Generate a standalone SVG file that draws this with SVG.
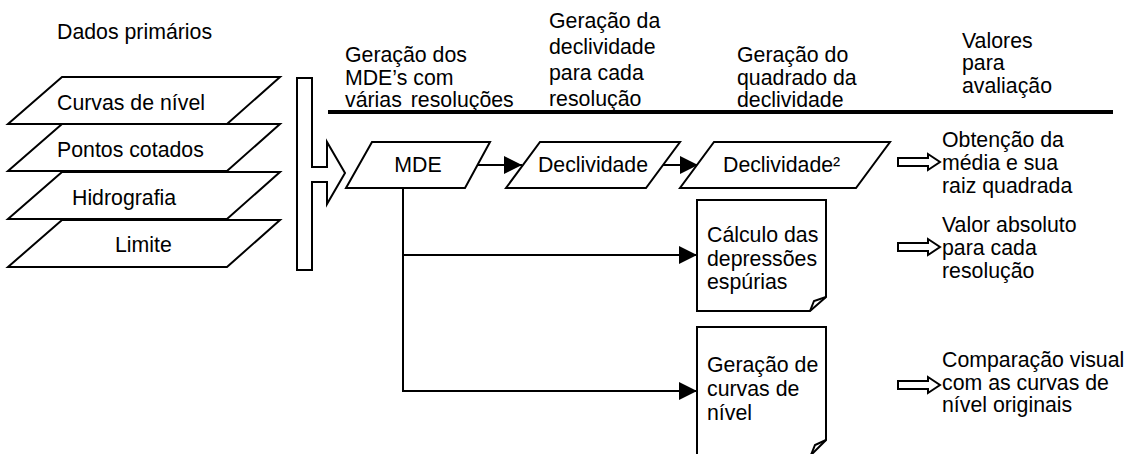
<svg xmlns="http://www.w3.org/2000/svg" width="1140" height="454" viewBox="0 0 1140 454">
<style>
text{font-family:"Liberation Sans",Arial,sans-serif;font-size:21.3px;fill:#000}
.s{fill:#fff;stroke:#000;stroke-width:2;stroke-linejoin:miter}
.c{fill:none;stroke:#000;stroke-width:2}
</style>
<defs>
<marker id="ah" markerUnits="userSpaceOnUse" markerWidth="18" markerHeight="18" refX="18" refY="9" orient="auto">
<path d="M0,0 L18,9 L0,18 Z" fill="#000"/>
</marker>
</defs>
<rect width="1140" height="454" fill="#fff"/>

<g id="headers">
<text x="57" y="39">Dados primários</text>
<text x="345" y="62">Geração dos</text>
<text x="345" y="85">MDE’s com</text>
<text x="345" y="107" word-spacing="3">várias resoluções</text>
<text x="549" y="28">Geração da</text>
<text x="549" y="54">declividade</text>
<text x="549" y="80">para cada</text>
<text x="549" y="106">resolução</text>
<text x="737" y="62">Geração do</text>
<text x="737" y="85">quadrado da</text>
<text x="737" y="107">declividade</text>
<text x="962" y="48">Valores</text>
<text x="962" y="70">para</text>
<text x="962" y="93">avaliação</text>
<line x1="328" y1="112" x2="1113" y2="112" stroke="#000" stroke-width="4"/>
</g>

<g id="layer-curvas">
<polygon class="s" points="62,77 280,77 227,124 8,124"/>
<text x="57" y="110">Curvas de nível</text>
</g>
<g id="layer-pontos">
<polygon class="s" points="62,124 280,124 227,171 8,171"/>
<text x="57" y="157">Pontos cotados</text>
</g>
<g id="layer-hidrografia">
<polygon class="s" points="62,172 280,172 227,219 8,219"/>
<text x="72" y="205">Hidrografia</text>
</g>
<g id="layer-limite">
<polygon class="s" points="62,220 280,220 227,267 8,267"/>
<text x="115" y="252">Limite</text>
</g>

<g id="bracket-arrow">
<polygon class="s" points="297,78 312,78 312,167 327,167 327,142 345,173 327,204 327,182 312,182 312,270 297,270"/>
</g>

<g id="connectors">
<line class="c" x1="477" y1="165" x2="522" y2="165" marker-end="url(#ah)"/>
<line class="c" x1="663" y1="165" x2="698" y2="165" marker-end="url(#ah)"/>
<polyline class="c" points="403,188 403,391 697,391" marker-end="url(#ah)"/>
<line class="c" x1="403" y1="255" x2="697" y2="255" marker-end="url(#ah)"/>
</g>

<g id="mde">
<polygon class="s" points="372,142 490,142 465,188 346,188"/>
<text x="418" y="172" text-anchor="middle">MDE</text>
</g>
<g id="declividade">
<polygon class="s" points="540,142 680,142 646,188 506,188"/>
<text x="593" y="172" text-anchor="middle">Declividade</text>
</g>
<g id="declividade2">
<polygon class="s" points="714,142 890,142 856,188 680,188"/>
<text x="723" y="172">Declividade²</text>
</g>

<g id="doc-depressoes">
<path class="s" d="M697,200 H826 V297 L810,311 H697 Z"/>
<path class="c" d="M810,311 L814,301 L826,297"/>
<text x="707" y="242">Cálculo das</text>
<text x="707" y="266">depressões</text>
<text x="707" y="289">espúrias</text>
</g>
<g id="doc-curvas">
<path class="s" d="M697,327 H826 V440 L811,455 H697 Z"/>
<path class="c" d="M811,455 L815,445 L826,440"/>
<text x="707" y="372">Geração de</text>
<text x="707" y="396">curvas de</text>
<text x="707" y="420">nível</text>
</g>

<g id="out-media">
<polygon class="s" points="898,158 928,158 928,154 940,162 928,170 928,166 898,166"/>
<text x="942" y="147">Obtenção da</text>
<text x="942" y="170">média e sua</text>
<text x="942" y="193">raiz quadrada</text>
</g>
<g id="out-absoluto">
<polygon class="s" points="898,243 928,243 928,239 940,247 928,255 928,251 898,251"/>
<text x="942" y="232">Valor absoluto</text>
<text x="942" y="255">para cada</text>
<text x="942" y="278">resolução</text>
</g>
<g id="out-comparacao">
<polygon class="s" points="898,381 928,381 928,377 940,385 928,393 928,389 898,389"/>
<text x="942" y="367">Comparação visual</text>
<text x="942" y="390">com as curvas de</text>
<text x="942" y="412">nível originais</text>
</g>
</svg>
